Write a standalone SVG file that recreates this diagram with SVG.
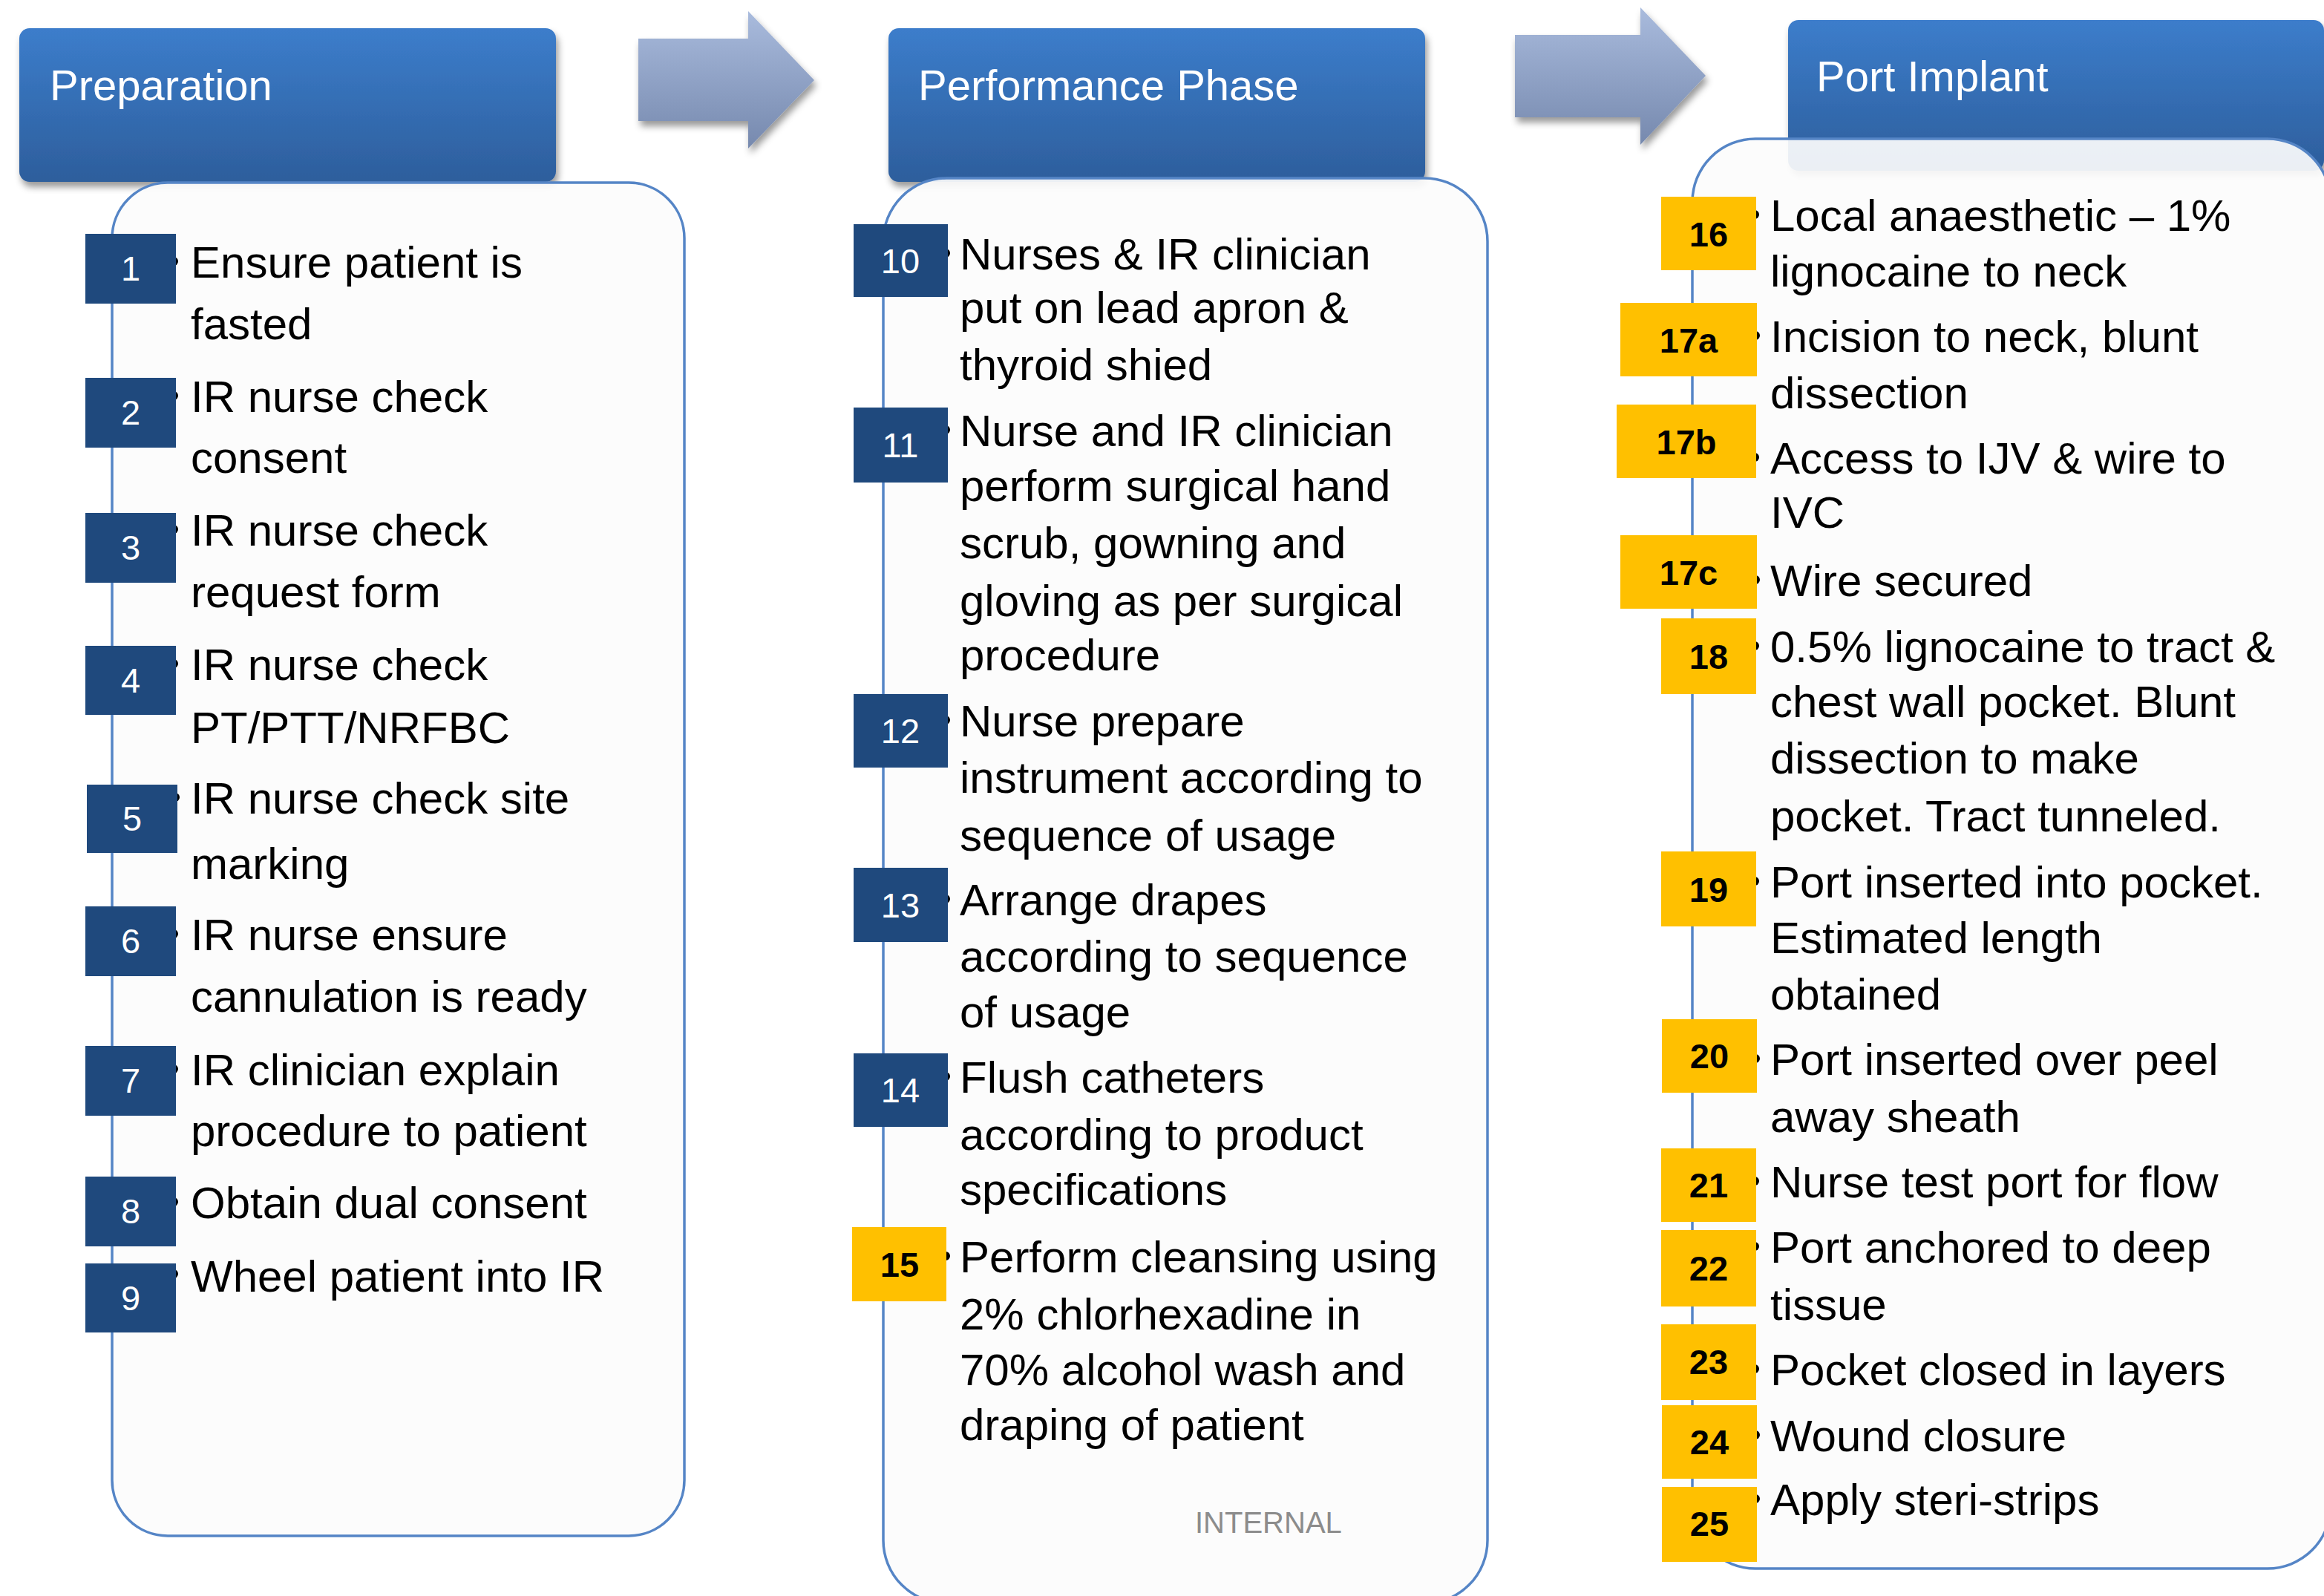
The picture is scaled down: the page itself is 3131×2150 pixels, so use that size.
<svg xmlns="http://www.w3.org/2000/svg" width="3131" height="2150" viewBox="0 0 3131 2150">
<defs>
<linearGradient id="hdr" x1="0" y1="0" x2="0" y2="1">
<stop offset="0" stop-color="#3C7DCB"/>
<stop offset="1" stop-color="#2D5E9C"/>
</linearGradient>
<linearGradient id="arr" x1="0" y1="0" x2="0" y2="1">
<stop offset="0" stop-color="#A9BBDD"/>
<stop offset="1" stop-color="#7689AE"/>
</linearGradient>
<filter id="shadow" x="-10%" y="-10%" width="130%" height="140%">
<feDropShadow dx="3" dy="7" stdDeviation="5" flood-color="#000" flood-opacity="0.4"/>
</filter>
</defs>
<style>
.hdr{fill:url(#hdr);filter:url(#shadow)}
.title{font-family:"Liberation Sans",Arial,sans-serif;font-size:58px;fill:#FFFFFF}
.body{fill:#FCFCFC;fill-opacity:0.92;stroke:#5585C6;stroke-width:3.5}
.t{font-family:"Liberation Sans",Arial,sans-serif;font-size:60px;fill:#000000}
.nb{fill:#1F497D}
.ny{fill:#FFC000}
.nt{font-family:"Liberation Sans",Arial,sans-serif;font-size:47px;fill:#FFFFFF;text-anchor:middle}
.nty{font-family:"Liberation Sans",Arial,sans-serif;font-size:47px;font-weight:bold;fill:#000000;text-anchor:middle}
.dot{fill:#000000}
.arrow{fill:url(#arr);filter:url(#shadow)}
.mark{font-family:"Liberation Sans",Arial,sans-serif;font-size:40px;fill:#8C8C8C}
</style>
<rect width="3131" height="2150" fill="#FFFFFF"/>

<g id="connectors">
<polygon class="arrow" points="860,52 1008,52 1008,15 1097,108 1008,200 1008,163 860,163"/>
<polygon class="arrow" points="2041,47 2210,47 2210,10 2298,102 2210,195 2210,158 2041,158"/>
</g>

<g id="preparation">
<rect class="hdr" x="26" y="38" width="723" height="207" rx="14"/>
<text class="title" x="67" y="135">Preparation</text>
<rect class="body" x="151" y="246" width="771" height="1823" rx="75"/>
<g id="step1">
<circle class="dot" cx="234" cy="352" r="6"/><rect class="nb" x="115" y="315" width="122" height="94"/><text class="nt" x="176" y="378">1</text>
<text class="t" x="257" y="374">Ensure patient is</text><text class="t" x="257" y="457">fasted</text>
</g>
<g id="step2">
<circle class="dot" cx="234" cy="533" r="6"/><rect class="nb" x="115" y="509" width="122" height="94"/><text class="nt" x="176" y="572">2</text>
<text class="t" x="257" y="555">IR nurse check</text><text class="t" x="257" y="637">consent</text>
</g>
<g id="step3">
<circle class="dot" cx="234" cy="713" r="6"/><rect class="nb" x="115" y="691" width="122" height="94"/><text class="nt" x="176" y="754">3</text>
<text class="t" x="257" y="735">IR nurse check</text><text class="t" x="257" y="818">request form</text>
</g>
<g id="step4">
<circle class="dot" cx="234" cy="894" r="6"/><rect class="nb" x="115" y="870" width="122" height="93"/><text class="nt" x="176" y="933">4</text>
<text class="t" x="257" y="916">IR nurse check</text><text class="t" x="257" y="1001">PT/PTT/NRFBC</text>
</g>
<g id="step5">
<circle class="dot" cx="236" cy="1074" r="6"/><rect class="nb" x="117" y="1057" width="122" height="92"/><text class="nt" x="178" y="1119">5</text>
<text class="t" x="257" y="1096">IR nurse check site</text><text class="t" x="257" y="1184">marking</text>
</g>
<g id="step6">
<circle class="dot" cx="234" cy="1258" r="6"/><rect class="nb" x="115" y="1221" width="122" height="94"/><text class="nt" x="176" y="1284">6</text>
<text class="t" x="257" y="1280">IR nurse ensure</text><text class="t" x="257" y="1363">cannulation is ready</text>
</g>
<g id="step7">
<circle class="dot" cx="234" cy="1440" r="6"/><rect class="nb" x="115" y="1409" width="122" height="94"/><text class="nt" x="176" y="1472">7</text>
<text class="t" x="257" y="1462">IR clinician explain</text><text class="t" x="257" y="1544">procedure to patient</text>
</g>
<g id="step8">
<circle class="dot" cx="234" cy="1619" r="6"/><rect class="nb" x="115" y="1585" width="122" height="94"/><text class="nt" x="176" y="1648">8</text>
<text class="t" x="257" y="1641">Obtain dual consent</text>
</g>
<g id="step9">
<circle class="dot" cx="234" cy="1716" r="6"/><rect class="nb" x="115" y="1702" width="122" height="93"/><text class="nt" x="176" y="1765">9</text>
<text class="t" x="257" y="1740">Wheel patient into IR</text>
</g>
</g>

<g id="performance">
<rect class="hdr" x="1197" y="38" width="723" height="207" rx="14"/>
<text class="title" x="1237" y="135">Performance Phase</text>
<rect class="body" x="1190" y="240" width="814" height="1920" rx="85"/>
<g id="step10">
<circle class="dot" cx="1274" cy="341" r="6"/><rect class="nb" x="1150" y="302" width="127" height="98"/><text class="nt" x="1213" y="368">10</text>
<text class="t" x="1293" y="363">Nurses &amp; IR clinician</text><text class="t" x="1293" y="435">put on lead apron &amp;</text><text class="t" x="1293" y="512">thyroid shied</text>
</g>
<g id="step11">
<circle class="dot" cx="1274" cy="579" r="6"/><rect class="nb" x="1150" y="549" width="127" height="101"/><text class="nt" x="1213" y="616">11</text>
<text class="t" x="1293" y="601">Nurse and IR clinician</text><text class="t" x="1293" y="675">perform surgical hand</text><text class="t" x="1293" y="752">scrub, gowning and</text><text class="t" x="1293" y="830">gloving as per surgical</text><text class="t" x="1293" y="903">procedure</text>
</g>
<g id="step12">
<circle class="dot" cx="1274" cy="970" r="6"/><rect class="nb" x="1150" y="935" width="127" height="99"/><text class="nt" x="1213" y="1001">12</text>
<text class="t" x="1293" y="992">Nurse prepare</text><text class="t" x="1293" y="1068">instrument according to</text><text class="t" x="1293" y="1146">sequence of usage</text>
</g>
<g id="step13">
<circle class="dot" cx="1274" cy="1211" r="6"/><rect class="nb" x="1150" y="1169" width="127" height="100"/><text class="nt" x="1213" y="1236">13</text>
<text class="t" x="1293" y="1233">Arrange drapes</text><text class="t" x="1293" y="1309">according to sequence</text><text class="t" x="1293" y="1384">of usage</text>
</g>
<g id="step14">
<circle class="dot" cx="1274" cy="1450" r="6"/><rect class="nb" x="1150" y="1419" width="127" height="99"/><text class="nt" x="1213" y="1485">14</text>
<text class="t" x="1293" y="1472">Flush catheters</text><text class="t" x="1293" y="1549">according to product</text><text class="t" x="1293" y="1623">specifications</text>
</g>
<g id="step15">
<circle class="dot" cx="1274" cy="1692" r="6"/><rect class="ny" x="1148" y="1653" width="127" height="100"/><text class="nty" x="1212" y="1720">15</text>
<text class="t" x="1293" y="1714">Perform cleansing using</text><text class="t" x="1293" y="1791">2% chlorhexadine in</text><text class="t" x="1293" y="1866">70% alcohol wash and</text><text class="t" x="1293" y="1940">draping of patient</text>
</g>
<text class="mark" x="1610" y="2065">INTERNAL</text>
</g>

<g id="port-implant">
<rect class="hdr" x="2409" y="27" width="722" height="203" rx="14"/>
<text class="title" x="2447" y="123">Port Implant</text>
<rect class="body" x="2280" y="187" width="860" height="1926" rx="85"/>
<g id="step16">
<circle class="dot" cx="2364" cy="289" r="6"/><rect class="ny" x="2238" y="265" width="128" height="99"/><text class="nty" x="2302" y="332">16</text>
<text class="t" x="2385" y="311">Local anaesthetic – 1%</text><text class="t" x="2385" y="386">lignocaine to neck</text>
</g>
<g id="step17a">
<circle class="dot" cx="2365" cy="452" r="6"/><rect class="ny" x="2183" y="408" width="184" height="99"/><text class="nty" x="2275" y="475">17a</text>
<text class="t" x="2385" y="474">Incision to neck, blunt</text><text class="t" x="2385" y="550">dissection</text>
</g>
<g id="step17b">
<circle class="dot" cx="2364" cy="616" r="6"/><rect class="ny" x="2178" y="545" width="188" height="99"/><text class="nty" x="2272" y="612">17b</text>
<text class="t" x="2385" y="638">Access to IJV &amp; wire to</text><text class="t" x="2385" y="711">IVC</text>
</g>
<g id="step17c">
<circle class="dot" cx="2365" cy="781" r="6"/><rect class="ny" x="2183" y="721" width="184" height="99"/><text class="nty" x="2275" y="788">17c</text>
<text class="t" x="2385" y="803">Wire secured</text>
</g>
<g id="step18">
<circle class="dot" cx="2364" cy="870" r="6"/><rect class="ny" x="2238" y="833" width="128" height="102"/><text class="nty" x="2302" y="901">18</text>
<text class="t" x="2385" y="892">0.5% lignocaine to tract &amp;</text><text class="t" x="2385" y="966">chest wall pocket. Blunt</text><text class="t" x="2385" y="1042">dissection to make</text><text class="t" x="2385" y="1120">pocket. Tract tunneled.</text>
</g>
<g id="step19">
<circle class="dot" cx="2364" cy="1187" r="6"/><rect class="ny" x="2238" y="1147" width="128" height="101"/><text class="nty" x="2302" y="1215">19</text>
<text class="t" x="2385" y="1209">Port inserted into pocket.</text><text class="t" x="2385" y="1284">Estimated length</text><text class="t" x="2385" y="1360">obtained</text>
</g>
<g id="step20">
<circle class="dot" cx="2365" cy="1426" r="6"/><rect class="ny" x="2239" y="1373" width="128" height="99"/><text class="nty" x="2303" y="1439">20</text>
<text class="t" x="2385" y="1448">Port inserted over peel</text><text class="t" x="2385" y="1525">away sheath</text>
</g>
<g id="step21">
<circle class="dot" cx="2364" cy="1591" r="6"/><rect class="ny" x="2238" y="1547" width="128" height="99"/><text class="nty" x="2302" y="1613">21</text>
<text class="t" x="2385" y="1613">Nurse test port for flow</text>
</g>
<g id="step22">
<circle class="dot" cx="2364" cy="1679" r="6"/><rect class="ny" x="2238" y="1657" width="128" height="103"/><text class="nty" x="2302" y="1725">22</text>
<text class="t" x="2385" y="1701">Port anchored to deep</text><text class="t" x="2385" y="1778">tissue</text>
</g>
<g id="step23">
<circle class="dot" cx="2364" cy="1844" r="6"/><rect class="ny" x="2238" y="1784" width="128" height="102"/><text class="nty" x="2302" y="1851">23</text>
<text class="t" x="2385" y="1866">Pocket closed in layers</text>
</g>
<g id="step24">
<circle class="dot" cx="2365" cy="1933" r="6"/><rect class="ny" x="2239" y="1893" width="128" height="99"/><text class="nty" x="2303" y="1959">24</text>
<text class="t" x="2385" y="1955">Wound closure</text>
</g>
<g id="step25">
<circle class="dot" cx="2365" cy="2019" r="6"/><rect class="ny" x="2239" y="2003" width="128" height="101"/><text class="nty" x="2303" y="2069">25</text>
<text class="t" x="2385" y="2041">Apply steri-strips</text>
</g>
</g>
</svg>
